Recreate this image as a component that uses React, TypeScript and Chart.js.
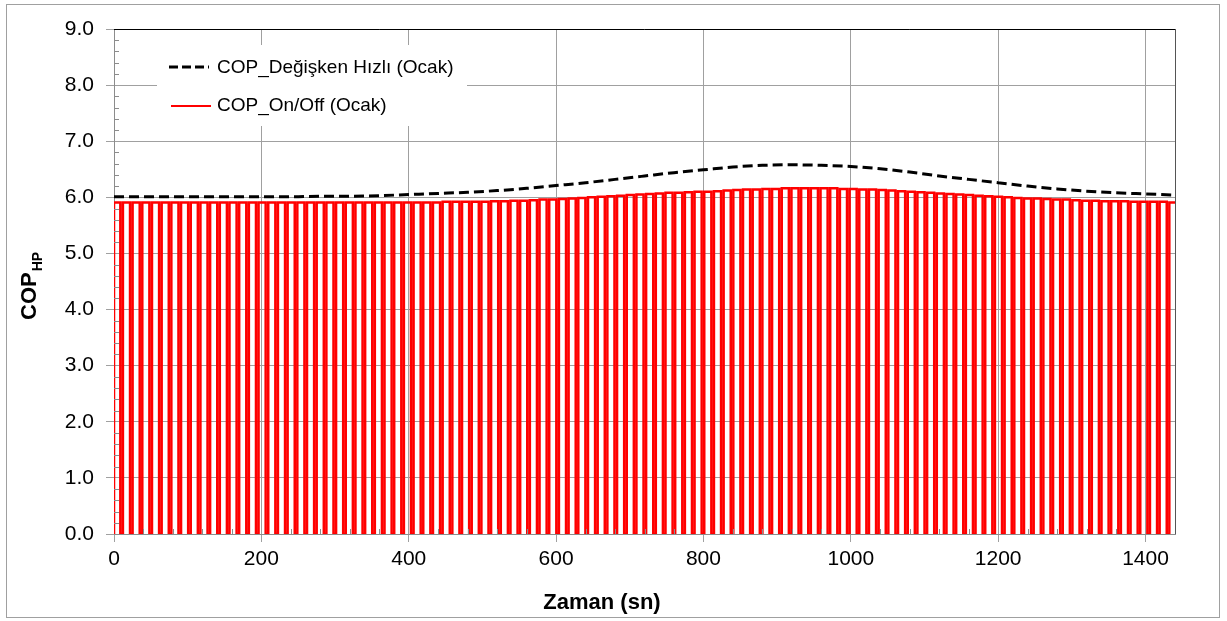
import React, { useEffect, useRef } from "react";
import { Chart, registerables } from "chart.js";

Chart.register(...registerables);

// ---------- data ----------
const X_TICKS = [0, 200, 400, 600, 800, 1000, 1200, 1400];
const Y_TICKS = [0, 1, 2, 3, 4, 5, 6, 7, 8, 9];
const X_MAX = 1440;
const X_MINOR_STEP = 40;
const Y_MINOR_STEP = 0.2;

const SERIES_VS_LABEL = "COP_Değişken Hızlı (Ocak)";
const SERIES_ONOFF_LABEL = "COP_On/Off (Ocak)";

// Variable-speed COP, sampled every 40 s
const VS_TIMES = [
  0, 40, 80, 120, 160, 200, 240, 280, 320, 360, 400, 440, 480, 520, 560, 600, 640, 680, 720,
  760, 800, 840, 880, 920, 960, 1000, 1040, 1080, 1120, 1160, 1200, 1240, 1280, 1320, 1360,
  1400, 1440,
];
const VS_COP = [
  6.01, 6.01, 6.01, 6.01, 6.01, 6.01, 6.01, 6.02, 6.02, 6.03, 6.05, 6.07, 6.09, 6.12, 6.16,
  6.21, 6.26, 6.32, 6.38, 6.44, 6.49, 6.54, 6.57, 6.58, 6.57, 6.55, 6.51, 6.45, 6.38, 6.32,
  6.26, 6.2, 6.15, 6.11, 6.08, 6.06, 6.04,
];

// On/Off compressor: COP during each "on" cycle
const ONOFF_CYCLE_COP = [
  5.91, 5.91, 5.91, 5.91, 5.91, 5.91, 5.91, 5.91, 5.91, 5.91,
  5.91, 5.91, 5.91, 5.91, 5.91, 5.91, 5.91, 5.91, 5.91, 5.91,
  5.91, 5.91, 5.91, 5.91, 5.91, 5.91, 5.91, 5.91, 5.91, 5.91,
  5.91, 5.91, 5.91, 5.91, 5.92, 5.92, 5.92, 5.92, 5.92, 5.93,
  5.93, 5.94, 5.94, 5.95, 5.96, 5.96, 5.97, 5.98, 5.99, 6.0,
  6.01, 6.02, 6.03, 6.04, 6.05, 6.06, 6.07, 6.08, 6.08, 6.09,
  6.1, 6.1, 6.11, 6.12, 6.13, 6.14, 6.14, 6.15, 6.15, 6.16,
  6.16, 6.16, 6.16, 6.16, 6.16, 6.15, 6.15, 6.14, 6.14, 6.13,
  6.12, 6.11, 6.1, 6.09, 6.08, 6.07, 6.06, 6.05, 6.04, 6.03,
  6.02, 6.01, 6.0, 5.99, 5.98, 5.98, 5.97, 5.96, 5.96, 5.95,
  5.94, 5.94, 5.93, 5.93, 5.93, 5.92, 5.92, 5.92, 5.92, 5.91,
];
const ONOFF_FIRST_OFF_S = 8.6; // first switch-off time
const ONOFF_PERIOD_S = 13.15; // cycle length
const ONOFF_OFF_S = 3.5; // off duration per cycle

const FONT = "'Liberation Sans', Arial, sans-serif";

function buildOnOff() {
  const pts: { x: number; y: number }[] = [];
  const n = ONOFF_CYCLE_COP.length;
  for (let k = 0; k < n; k++) {
    const v = ONOFF_CYCLE_COP[k];
    const start = k === 0 ? 0 : ONOFF_FIRST_OFF_S + (k - 1) * ONOFF_PERIOD_S + ONOFF_OFF_S;
    const end = k < n - 1 ? ONOFF_FIRST_OFF_S + k * ONOFF_PERIOD_S : X_MAX;
    pts.push({ x: start, y: 0 }, { x: start, y: v }, { x: end, y: v });
    if (k < n - 1) pts.push({ x: end, y: 0 });
  }
  return pts;
}

const decorPlugin = {
  id: "decor",
  afterDraw(chart: any) {
    const ctx = chart.ctx as CanvasRenderingContext2D;
    const { left, right, top, bottom } = chart.chartArea;
    const xs = chart.scales.x;
    const ys = chart.scales.y;
    ctx.save();

    // minor ticks
    ctx.strokeStyle = "#8c8c8c";
    ctx.lineWidth = 1;
    ctx.beginPath();
    for (let v = X_MINOR_STEP; v < X_MAX; v += X_MINOR_STEP) {
      if (v % 200 === 0) continue;
      const px = Math.round(xs.getPixelForValue(v)) + 0.5;
      ctx.moveTo(px, bottom);
      ctx.lineTo(px, bottom - 5);
    }
    for (let i = 1; i < 45; i++) {
      if (i % 5 === 0) continue;
      const py = Math.round(ys.getPixelForValue(i * Y_MINOR_STEP)) + 0.5;
      ctx.moveTo(left, py);
      ctx.lineTo(left + 5, py);
    }
    ctx.stroke();

    // top and right plot borders
    ctx.strokeStyle = "#000";
    ctx.beginPath();
    ctx.moveTo(left, Math.round(top) + 0.5);
    ctx.lineTo(right, Math.round(top) + 0.5);
    ctx.stroke();
    ctx.strokeStyle = "#555";
    ctx.beginPath();
    ctx.moveTo(Math.round(right) + 0.5, top);
    ctx.lineTo(Math.round(right) + 0.5, bottom);
    ctx.stroke();

    // legend
    ctx.fillStyle = "#fff";
    ctx.fillRect(157, 45, 310, 81);
    ctx.setLineDash([9, 4]);
    ctx.strokeStyle = "#000";
    ctx.lineWidth = 3;
    ctx.beginPath();
    ctx.moveTo(169, 67);
    ctx.lineTo(209, 67);
    ctx.stroke();
    ctx.setLineDash([]);
    ctx.strokeStyle = "#ff0000";
    ctx.lineWidth = 2;
    ctx.beginPath();
    ctx.moveTo(171, 106);
    ctx.lineTo(211, 106);
    ctx.stroke();
    ctx.fillStyle = "#000";
    ctx.font = `19px ${FONT}`;
    ctx.textAlign = "left";
    ctx.textBaseline = "middle";
    ctx.fillText(chart.data.datasets[0].label, 217, 68);
    ctx.fillText(chart.data.datasets[1].label, 217, 106);

    // axis titles
    ctx.textBaseline = "alphabetic";
    ctx.textAlign = "center";
    ctx.font = `bold 22px ${FONT}`;
    ctx.fillText("Zaman (sn)", 602, 609);

    ctx.save();
    ctx.translate(36, 320);
    ctx.rotate(-Math.PI / 2);
    ctx.textAlign = "left";
    ctx.font = `bold 22px ${FONT}`;
    ctx.fillText("COP", 0, 0);
    const w = ctx.measureText("COP").width;
    ctx.font = `bold 14px ${FONT}`;
    ctx.fillText("HP", w + 1, 6);
    ctx.restore();

    // outer frame
    ctx.strokeStyle = "#a0a0a0";
    ctx.lineWidth = 1;
    ctx.strokeRect(6.5, 4.5, 1213, 613);
    ctx.restore();
  },
};

export default function App() {
  const ref = useRef<HTMLCanvasElement | null>(null);

  useEffect(() => {
    if (!ref.current) return;
    const vsData = VS_TIMES.map((t, i) => ({ x: t, y: VS_COP[i] }));
    const chart = new Chart(ref.current, {
      type: "line",
      data: {
        datasets: [
          {
            label: SERIES_VS_LABEL,
            data: vsData,
            borderColor: "#000",
            borderWidth: 3,
            borderDash: [10, 5],
            pointRadius: 0,
            tension: 0.4,
            cubicInterpolationMode: "monotone",
            order: 0,
          },
          {
            label: SERIES_ONOFF_LABEL,
            data: buildOnOff(),
            borderColor: "#ff0000",
            borderWidth: 2.5,
            pointRadius: 0,
            tension: 0,
            borderJoinStyle: "miter",
            order: 1,
          },
        ],
      },
      options: {
        responsive: false,
        animation: false,
        devicePixelRatio: 1,
        layout: { padding: { left: 0, right: 52, top: 29, bottom: 0 } },
        plugins: { legend: { display: false }, tooltip: { enabled: false } },
        scales: {
          x: {
            type: "linear",
            min: 0,
            max: X_MAX,
            afterBuildTicks: (s: any) => {
              s.ticks = X_TICKS.map((v) => ({ value: v }));
            },
            afterFit: (s: any) => {
              s.height = 87;
            },
            grid: { color: "#a0a0a0", tickLength: 8, lineWidth: 1 },
            border: { color: "#8c8c8c" },
            ticks: {
              color: "#000",
              font: { family: FONT, size: 21 },
              padding: 5,
              maxRotation: 0,
              autoSkip: false,
              callback: (v: any) => String(v),
            },
          },
          y: {
            type: "linear",
            min: 0,
            max: 9,
            afterBuildTicks: (s: any) => {
              s.ticks = Y_TICKS.map((v) => ({ value: v }));
            },
            afterFit: (s: any) => {
              s.width = 114;
            },
            grid: { color: "#a0a0a0", tickLength: 8, lineWidth: 1 },
            border: { color: "#8c8c8c" },
            ticks: {
              color: "#000",
              font: { family: FONT, size: 21 },
              padding: 12,
              callback: (v: any) => Number(v).toFixed(1),
            },
          },
        },
      },
      plugins: [decorPlugin],
    } as any);
    return () => chart.destroy();
  }, []);

  return (
    <div style={{ position: "absolute", left: 0, top: 0, width: 1227, height: 621, background: "#fff" }}>
      <canvas ref={ref} width={1227} height={621} style={{ width: 1227, height: 621 }} />
    </div>
  );
}
